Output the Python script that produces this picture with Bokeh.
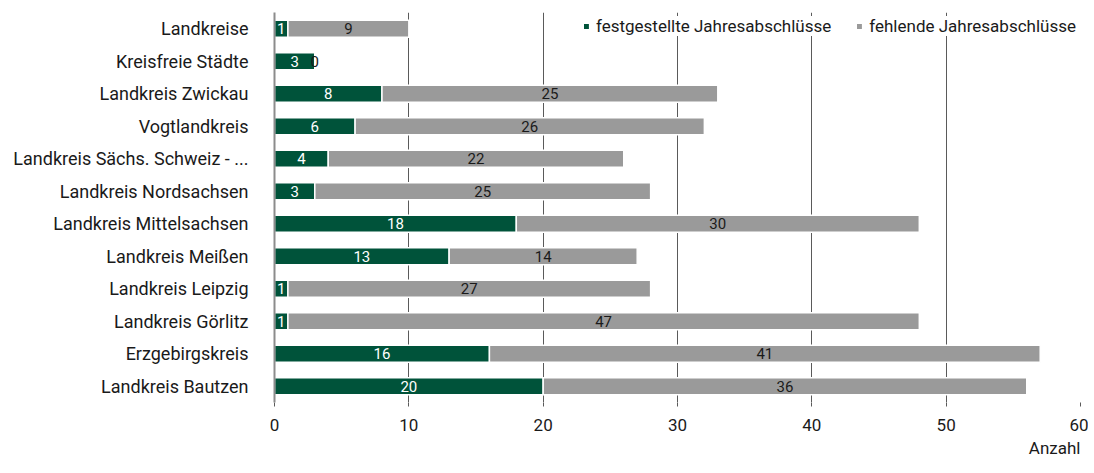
from bokeh.plotting import figure
from bokeh.models import ColumnDataSource, FactorRange, Range1d, Legend, LegendItem, LabelSet, FixedTicker, Title
from bokeh.embed import file_html
from bokeh.resources import INLINE
from bokeh.core.properties import value

categories = ["Landkreise", "Kreisfreie Städte", "Landkreis Zwickau", "Vogtlandkreis",
              "Landkreis Sächs. Schweiz - ...", "Landkreis Nordsachsen", "Landkreis Mittelsachsen",
              "Landkreis Meißen", "Landkreis Leipzig", "Landkreis Görlitz", "Erzgebirgskreis",
              "Landkreis Bautzen"]
festgestellt = [1, 3, 8, 6, 4, 3, 18, 13, 1, 1, 16, 20]
fehlend = [9, 0, 25, 26, 22, 25, 30, 14, 27, 47, 41, 36]
x_ticks = [0, 10, 20, 30, 40, 50, 60]

FONT = "Roboto"
GREEN = "#00533a"
GRAY = "#9a9a9a"
TXT = "#1a1a1a"

end1 = [a + b for a, b in zip(festgestellt, fehlend)]
src = ColumnDataSource(dict(
    cat=categories, f=festgestellt, m=fehlend, end1=end1,
    fx=[a / 2 for a in festgestellt],
    mx=[a + b / 2 for a, b in zip(festgestellt, fehlend)],
    fl=[str(v) for v in festgestellt], ml=[str(v) for v in fehlend],
))

W, H = 1088, 472
p = figure(width=W, height=H, output_backend="svg", toolbar_location=None,
           y_range=FactorRange(*reversed(categories)), x_range=Range1d(0, 60),
           min_border_left=274, min_border_right=8, min_border_top=12, min_border_bottom=70)
p.outline_line_color = None
p.background_fill_color = "white"

r1 = p.hbar(y="cat", left=0, right="f", height=0.52, color=GREEN, line_color="white", line_width=1.5, source=src)
r2 = p.hbar(y="cat", left="f", right="end1", height=0.52, color=GRAY, line_color="white", line_width=1.5, source=src)

p.add_layout(LabelSet(x="fx", y="cat", text="fl", source=src, text_align="center", text_baseline="middle",
                      text_color="white", text_font=value(FONT), text_font_size="15px"))
p.add_layout(LabelSet(x="mx", y="cat", text="ml", source=src, text_align="center", text_baseline="middle",
                      text_color=TXT, text_font=value(FONT), text_font_size="15px"))

p.ygrid.grid_line_color = None
p.xgrid.ticker = FixedTicker(ticks=x_ticks)
p.xgrid.grid_line_color = "#5a5a5a"
p.xgrid.grid_line_width = 1
p.xgrid.level = "underlay"

xa = p.xaxis[0]
xa.ticker = FixedTicker(ticks=x_ticks)
xa.axis_line_color = None
xa.major_tick_line_color = "#5a5a5a"
xa.major_tick_out = 4
xa.major_tick_in = 0
xa.minor_tick_line_color = None
xa.major_label_text_font = FONT
xa.major_label_text_font_size = "17px"
xa.major_label_text_color = TXT
xa.major_label_standoff = 12

p.yaxis.axis_line_color = "#8c8c8c"
p.yaxis.axis_line_width = 2
p.yaxis.major_tick_line_color = None
p.yaxis.minor_tick_line_color = None
p.yaxis.major_label_text_font = FONT
p.yaxis.major_label_text_font_size = "18px"
p.yaxis.major_label_text_color = TXT
p.yaxis.major_label_standoff = 20

p.add_layout(Title(text="Anzahl", align="right", text_font=FONT, text_font_size="17px",
                   text_font_style="normal", text_color=TXT, standoff=4), "below")

legend = Legend(items=[LegendItem(label="festgestellte Jahresabschlüsse", renderers=[r1]),
                       LegendItem(label="fehlende Jahresabschlüsse", renderers=[r2])],
                location="top_right", orientation="horizontal", spacing=24,
                glyph_width=8, glyph_height=8, label_standoff=6, padding=4, margin=4,
                label_height=16, border_line_color=None, background_fill_color="white",
                background_fill_alpha=1.0,
                label_text_font=FONT, label_text_font_size="17px", label_text_color=TXT)
p.add_layout(legend, "center")

open("out.html", "w").write(file_html(p, INLINE))
